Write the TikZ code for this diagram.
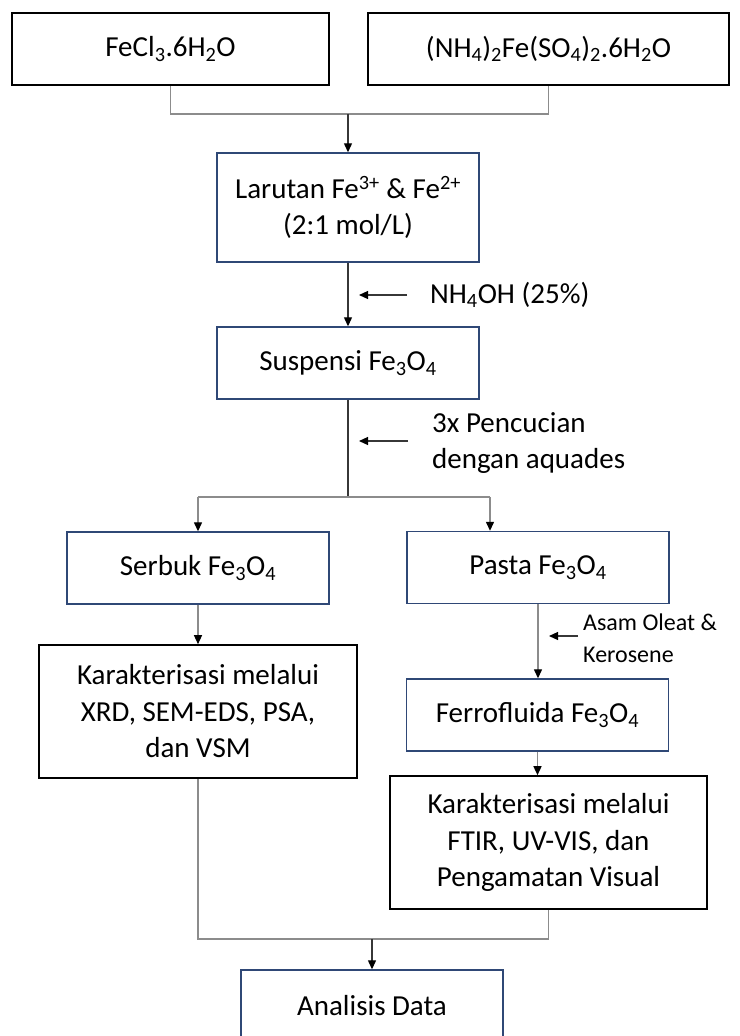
\documentclass[tikz,border=0pt]{standalone}
\usepackage{fontspec}
\setmainfont{Carlito}
\usetikzlibrary{arrows.meta}
\definecolor{bbox}{RGB}{47,72,118}
\definecolor{gline}{RGB}{140,140,140}
\definecolor{dline}{RGB}{55,55,55}
\begin{document}
\begin{tikzpicture}[x=1pt,y=-1pt,
  every node/.style={font=\fontsize{29}{36.5}\selectfont},
  bx/.style={draw=bbox, line width=1.4pt, inner sep=0pt, align=center, minimum width=262pt, minimum height=72pt},
  kbox/.style={draw=black, line width=1.6pt, inner sep=0pt, align=center},
  gl/.style={draw=gline, line width=1.3pt},
  dl/.style={draw=dline, line width=1.2pt},
  tip/.style={-{Triangle[length=9pt,width=8pt,color=black]}},
  lbl/.style={anchor=west, align=left, inner sep=0pt}]
\useasboundingbox (0,0) rectangle (739,1036);
\clip (0,0) rectangle (739,1036);
% boxes
\node[kbox, minimum width=317pt, minimum height=72pt] (fecl) at (170.5,49) {FeCl\textsubscript{3}.6H\textsubscript{2}O};
\node[kbox, minimum width=361pt, minimum height=72pt] (nh4) at (548.5,49) {(NH\textsubscript{4})\textsubscript{2}Fe(SO\textsubscript{4})\textsubscript{2}.6H\textsubscript{2}O};
\node[bx, minimum height=109pt] (lar) at (348,207.5) {Larutan Fe\textsuperscript{3+} \& Fe\textsuperscript{2+}\\(2:1 mol/L)};
\node[bx] (sus) at (348,363) {Suspensi Fe\textsubscript{3}O\textsubscript{4}};
\node[bx] (ser) at (198,568) {Serbuk Fe\textsubscript{3}O\textsubscript{4}};
\node[bx] (pas) at (538,567.5) {Pasta Fe\textsubscript{3}O\textsubscript{4}};
\node[kbox, minimum width=318pt, minimum height=133pt] (kar1) at (198,711.5) {Karakterisasi melalui\\XRD, SEM-EDS, PSA,\\dan VSM};
\node[bx] (fer) at (537.5,715) {Ferrofluida Fe\textsubscript{3}O\textsubscript{4}};
\node[kbox, minimum width=317pt, minimum height=133pt] (kar2) at (548.5,842.5) {Karakterisasi melalui\\FTIR, UV-VIS, dan\\Pengamatan Visual};
\node[bx] (ana) at (372,1006) {Analisis Data};
% junctions
\coordinate (j1) at (348,114);
\coordinate (j2) at (348,497);
\coordinate (j2l) at (198,497);
\coordinate (j2r) at (490,497);
\coordinate (j3) at (372,939);
% connectors
\draw[gl] (fecl.south) |- (j1) -| (nh4.south);
\draw[dl,tip] (j1) -- (lar.north);
\draw[dl,tip] (lar.south) -- (sus.north);
\draw[dl] (sus.south) -- (j2);
\draw[gl] (j2l) -- (j2r);
\draw[gl,tip] (j2l) -- (ser.north);
\draw[gl,tip] (j2r) -- (j2r |- pas.north);
\draw[gl,tip] (ser.south) -- (kar1.north);
\draw[gl,tip] (pas.south) -- (pas.south |- fer.north);
\draw[gl,tip] (fer.south) -- (fer.south |- kar2.north);
\draw[gl] (kar1.south) |- (j3) -| (kar2.south);
\draw[dl,tip] (j3) -- (ana.north);
% side inputs
\coordinate (a1s) at (407,295); \coordinate (a1e) at (359,295);
\draw[dl,tip] (a1s) -- (a1e);
\node[lbl] (t1) at (430,295) {NH\textsubscript{4}OH (25\%)};
\coordinate (a2s) at (408,441); \coordinate (a2e) at (359,441);
\draw[dl,tip] (a2s) -- (a2e);
\node[lbl] (t2) at (432,443) {3x Pencucian\\dengan aquades};
\coordinate (a3s) at (578,636); \coordinate (a3e) at (549,636);
\draw[dl,tip] (a3s) -- (a3e);
\node[lbl, font=\fontsize{24}{32}\selectfont] (t3) at (583,638) {Asam Oleat \&\\Kerosene};
\end{tikzpicture}
\end{document}
